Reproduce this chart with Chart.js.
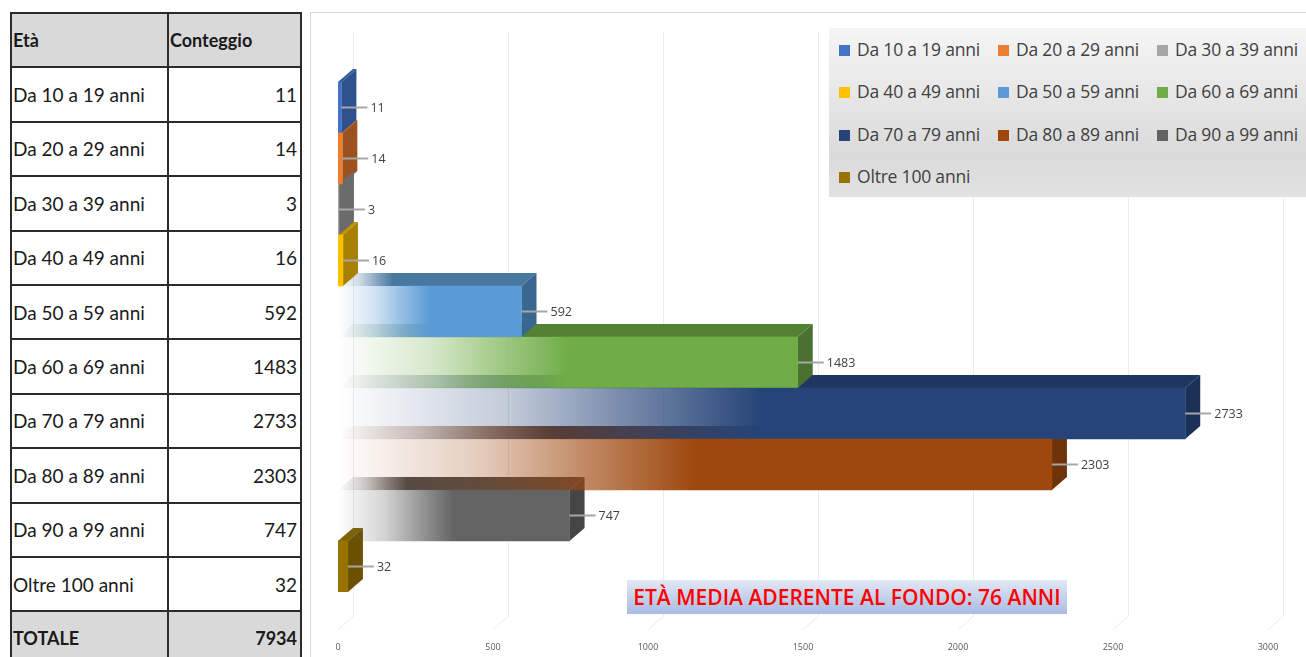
<!DOCTYPE html>
<html>
<head>
<meta charset="utf-8">
<script src="https://cdn.jsdelivr.net/npm/chart.js@4.4.0/dist/chart.umd.min.js"></script>
<style>
body{margin:0;background:#fff;width:1306px;height:657px;overflow:hidden;position:relative;font-family:Lato,sans-serif}
#tabella{position:absolute;left:10px;top:12px;border-collapse:collapse;table-layout:fixed}
#tabella td{border:2px solid #2b2b2b;height:54.4px;padding:0 3px 0 1px;font-size:19px;color:#1a1a1a;box-sizing:border-box;white-space:nowrap}
#tabella td.num{text-align:right}
#tabella tr.grigia td{background:#d9d9d9;font-weight:bold;font-size:18px}
#riquadro{position:absolute;left:310px;top:12px;width:1010px;height:660px;border:1px solid #d9d9d9;box-sizing:border-box}
#grafico{position:absolute;left:311px;top:13px}
#legenda{position:absolute;left:829px;top:28px;width:490px;height:169px;padding-left:10px;box-sizing:border-box;
  background:linear-gradient(#f5f5f5,#dadada 75%,#e2e2e2);display:grid;grid-template-columns:159px 159px 159px;grid-auto-rows:42.3px;align-items:center;
  font-family:"Open Sans",sans-serif;font-size:17.5px;color:#404040;white-space:nowrap;letter-spacing:-0.2px}
#legenda span.q{display:inline-block;width:11px;height:11px;margin-right:7px;vertical-align:0px}
#nota{position:absolute;left:627px;top:580px;width:440px;height:34px;line-height:34px;text-align:center;
  background:linear-gradient(#e2e8f5,#a8bbe1);color:#ff0000;font-family:"Open Sans",sans-serif;font-weight:600;font-size:21px;white-space:nowrap}
</style>
</head>
<body>
<table id="tabella"></table>
<div id="riquadro"></div>
<canvas id="grafico" width="995" height="644"></canvas>
<div id="legenda"></div>
<div id="nota">ETÀ MEDIA ADERENTE AL FONDO: 76 ANNI</div>
<script>
// dati del grafico
const fasce = ['Da 10 a 19 anni','Da 20 a 29 anni','Da 30 a 39 anni','Da 40 a 49 anni','Da 50 a 59 anni',
  'Da 60 a 69 anni','Da 70 a 79 anni','Da 80 a 89 anni','Da 90 a 99 anni','Oltre 100 anni'];
const conteggi = [11, 14, 3, 16, 592, 1483, 2733, 2303, 747, 32];
const tickX = [0, 500, 1000, 1500, 2000, 2500, 3000];

// colori: faccia frontale, faccia sopra, fianco
const coloriFronte = ['#4472c4','#ed7d31','#a5a5a5','#ffc000','#5b9bd5','#70ad47','#264478','#9e480e','#636363','#997300'];
const coloriSopra = ['#34599c','#b95f24','#7c7c7c','#bf9000','#47789f','#548235','#1e3660','#7a380b','#4b4b4b','#806000'];
const coloriLato = ['#2f528f','#9c521f','#6b6b6b','#a88000','#3a6790','#4a7130','#1b3157','#6f330a','#454545','#6b5000'];

const DX = 15, DY = 13; // profondita 3d

// tabella a sinistra
let tab = document.getElementById('tabella');
let html = '<colgroup><col style="width:157px"><col style="width:133px"></colgroup>';
html += '<tr class="grigia"><td>Età</td><td>Conteggio</td></tr>';
for (let i = 0; i < fasce.length; i++) {
  html += '<tr><td>' + fasce[i] + '</td><td class="num">' + conteggi[i] + '</td></tr>';
}
html += '<tr class="grigia"><td>TOTALE</td><td class="num">' + conteggi.reduce((a, b) => a + b, 0) + '</td></tr>';
tab.innerHTML = html;

// legenda
let leg = document.getElementById('legenda');
fasce.forEach((f, i) => {
  let d = document.createElement('div');
  d.innerHTML = '<span class="q" style="background:' + coloriFronte[i] + '"></span>' + f;
  leg.appendChild(d);
});

function rgba(hex, a) {
  let n = parseInt(hex.slice(1), 16);
  return 'rgba(' + (n >> 16) + ',' + ((n >> 8) & 255) + ',' + (n & 255) + ',' + a + ')';
}
// sfumatura da trasparente a pieno, "pieno" = punto dove il colore e' pieno
function sfuma(ctx, x0, x1, colore, pieno) {
  let g = ctx.createLinearGradient(x0, 0, x1, 0);
  g.addColorStop(0, rgba(colore, 0));
  g.addColorStop(pieno * 0.4, rgba(colore, 0.28));
  g.addColorStop(pieno * 0.7, rgba(colore, 0.65));
  g.addColorStop(pieno, rgba(colore, 1));
  g.addColorStop(1, rgba(colore, 1));
  return g;
}

// facce 3d e griglia sul fondo
const facce3d = {
  id: 'facce3d',
  beforeDatasetsDraw(chart) {
    const ctx = chart.ctx, area = chart.chartArea, xs = chart.scales.x;
    const bars = chart.getDatasetMeta(0).data;
    const ext = (area.bottom - area.top) / conteggi.length * 0.73;
    ctx.save();
    ctx.strokeStyle = '#ebebeb';
    ctx.lineWidth = 1;
    tickX.forEach(v => {
      let px = Math.round(xs.getPixelForValue(v)) + 0.5;
      ctx.beginPath();
      ctx.moveTo(px + DX, area.top - ext - DY);
      ctx.lineTo(px + DX, area.bottom + ext - DY);
      ctx.lineTo(px, area.bottom + ext);
      ctx.stroke();
    });
    // facce sopra
    bars.forEach((b, i) => {
      let p = b.getProps(['x', 'y', 'base', 'height'], true);
      let top = p.y - p.height / 2;
      ctx.beginPath();
      ctx.moveTo(p.base, top);
      ctx.lineTo(p.x, top);
      ctx.lineTo(p.x + DX, top - DY);
      ctx.lineTo(p.base + DX, top - DY);
      ctx.closePath();
      ctx.fillStyle = (p.x - p.base > 30) ? sfuma(ctx, p.base, p.x, coloriSopra[i], 0.3) : coloriSopra[i];
      ctx.fill();
    });
    // fianchi
    bars.forEach((b, i) => {
      let p = b.getProps(['x', 'y', 'base', 'height'], true);
      let top = p.y - p.height / 2, bot = p.y + p.height / 2;
      ctx.beginPath();
      ctx.moveTo(p.x, top);
      ctx.lineTo(p.x + DX, top - DY);
      ctx.lineTo(p.x + DX, bot - DY);
      ctx.lineTo(p.x, bot);
      ctx.closePath();
      ctx.fillStyle = coloriLato[i];
      ctx.fill();
    });
    ctx.restore();
  },
  afterDatasetsDraw(chart) {
    const ctx = chart.ctx;
    const bars = chart.getDatasetMeta(0).data;
    ctx.save();
    ctx.font = '12.5px "Open Sans", sans-serif';
    ctx.textBaseline = 'middle';
    bars.forEach((b, i) => {
      let p = b.getProps(['x', 'y'], true);
      ctx.strokeStyle = '#a6a6a6';
      ctx.lineWidth = 2;
      ctx.beginPath();
      ctx.moveTo(p.x, p.y);
      ctx.lineTo(p.x + 26, p.y);
      ctx.stroke();
      ctx.fillStyle = '#404040';
      ctx.fillText(conteggi[i], p.x + 29, p.y + 1);
    });
    ctx.restore();
  }
};

new Chart(document.getElementById('grafico').getContext('2d'), {
  type: 'bar',
  data: {
    labels: fasce,
    datasets: [{
      label: 'Conteggio',
      data: conteggi,
      borderWidth: 0,
      barPercentage: 1,
      categoryPercentage: 1,
      backgroundColor: function (c) {
        const chart = c.chart;
        if (!chart.chartArea) return coloriFronte[c.dataIndex];
        const xs = chart.scales.x;
        const x0 = xs.getPixelForValue(0), x1 = xs.getPixelForValue(c.raw);
        if (x1 - x0 < 30) return coloriFronte[c.dataIndex];
        return sfuma(chart.ctx, x0, x1, coloriFronte[c.dataIndex], 0.5);
      }
    }]
  },
  options: {
    indexAxis: 'y',
    responsive: false,
    animation: false,
    layout: { padding: { left: 27, right: 38, top: 69, bottom: 6 } },
    plugins: { legend: { display: false }, tooltip: { enabled: false } },
    scales: {
      x: {
        min: 0, max: 3000,
        afterBuildTicks: s => { s.ticks = tickX.map(v => ({ value: v })); },
        afterFit: s => { s.height = 59; s.paddingLeft = 0; s.paddingRight = 0; },
        grid: { display: false },
        border: { display: false },
        ticks: { padding: 42, autoSkip: false, maxRotation: 0, minRotation: 0, callback: v => String(v),
          color: '#595959', font: { size: 9, family: '"Open Sans", sans-serif' } }
      },
      y: { display: false, offset: true }
    }
  },
  plugins: [facce3d]
});
</script>
</body>
</html>
